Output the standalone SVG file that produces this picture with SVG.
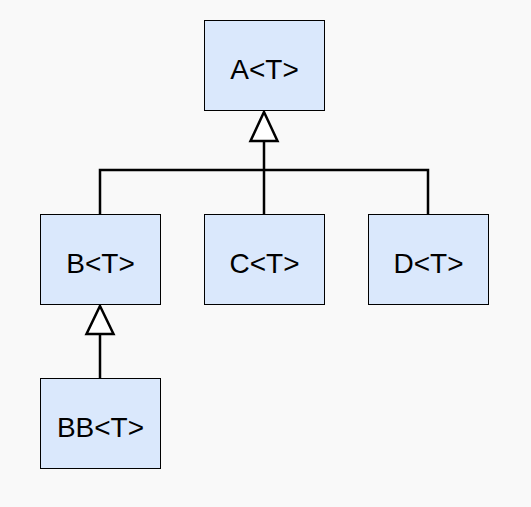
<svg xmlns="http://www.w3.org/2000/svg" width="531" height="507" viewBox="0 0 531 507">
  <style>
    .box rect { fill: #dae8fc; stroke: #000; stroke-width: 1; }
    .box text { font-family: "Liberation Sans", Arial, sans-serif; font-size: 28px; fill: #000; text-anchor: middle; }
    .edge { fill: none; stroke: #000; stroke-width: 2.5; }
    .head { fill: #fff; stroke: #000; stroke-width: 2.5; stroke-linejoin: miter; }
  </style>
  <rect x="0" y="0" width="531" height="507" fill="#f9f9f9"/>

  <g id="connectors">
    <!-- A generalization tree -->
    <path class="edge" d="M264 141 V214"/>
    <path class="edge" d="M100 214 V170 H428 V214"/>
    <polygon class="head" points="264,112 277.5,141 250.5,141"/>
    <!-- B generalization -->
    <path class="edge" d="M100 378 V334"/>
    <polygon class="head" points="100,306 113.5,334 86.5,334"/>
  </g>

  <g id="A" class="box">
    <rect x="204.5" y="20.5" width="120" height="90"/>
    <text x="264.5" y="79">A&lt;T&gt;</text>
  </g>
  <g id="B" class="box">
    <rect x="40.5" y="214.5" width="120" height="90"/>
    <text x="100.5" y="273">B&lt;T&gt;</text>
  </g>
  <g id="C" class="box">
    <rect x="204.5" y="214.5" width="120" height="90"/>
    <text x="264.5" y="273">C&lt;T&gt;</text>
  </g>
  <g id="D" class="box">
    <rect x="368.5" y="214.5" width="120" height="90"/>
    <text x="428.5" y="273">D&lt;T&gt;</text>
  </g>
  <g id="BB" class="box">
    <rect x="40.5" y="378.5" width="120" height="90"/>
    <text x="100.5" y="437">BB&lt;T&gt;</text>
  </g>
</svg>
